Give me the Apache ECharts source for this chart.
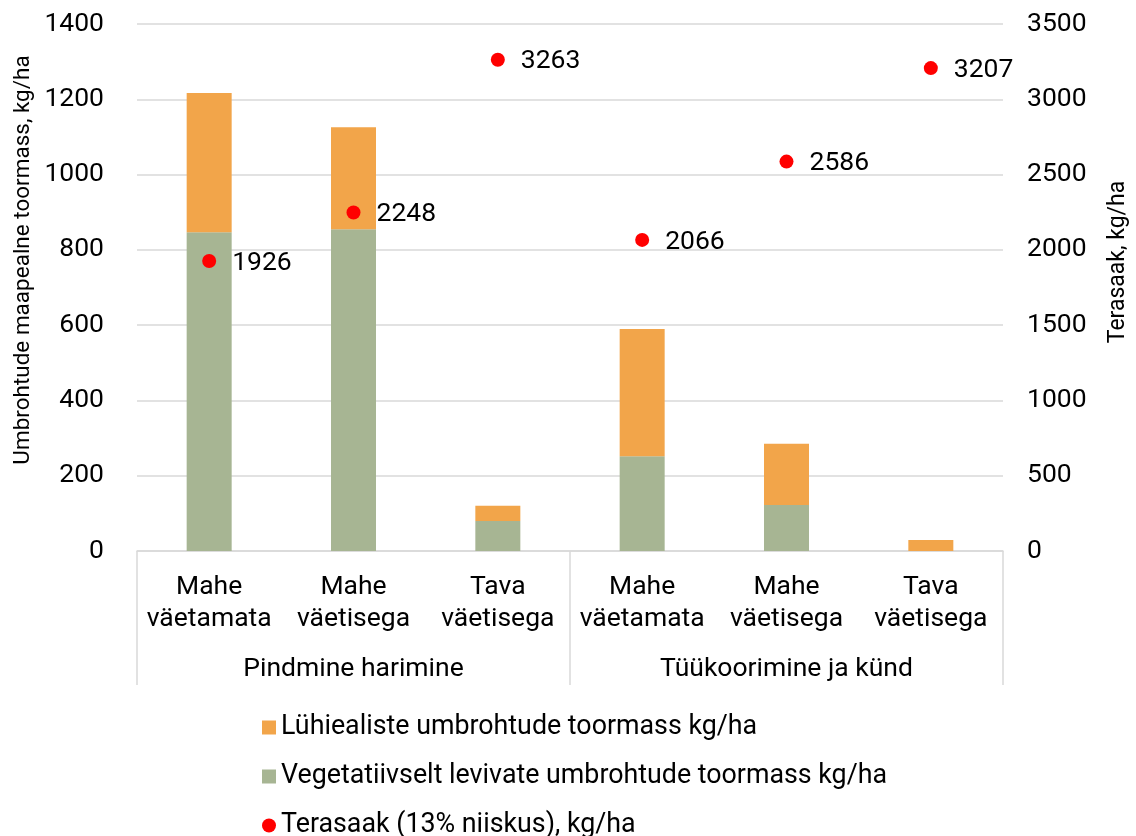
<!DOCTYPE html>
<html>
<head>
<meta charset="utf-8">
<script src="https://cdn.jsdelivr.net/npm/echarts@6/dist/echarts.min.js"></script>
<style>html,body{margin:0;padding:0;background:#fff}#c{width:1136px;height:836px}</style>
</head>
<body>
<div id="c"></div>
<script>
const categories = ['Mahe\nväetamata', 'Mahe\nväetisega', 'Tava\nväetisega', 'Mahe\nväetamata', 'Mahe\nväetisega', 'Tava\nväetisega'];
const groups = ['Pindmine harimine', 'Tüükoorimine ja künd'];
const vegetative = [847, 855, 80, 252, 122, 0];
const shortLived = [370, 271, 40, 338, 163, 29];
const grainYield = [1926, 2248, 3263, 2066, 2586, 3207];
const leftTicks = [0, 1400, 200];
const rightTicks = [0, 3500, 500];
const names = ['Lühiealiste umbrohtude toormass kg/ha', 'Vegetatiivselt levivate umbrohtude toormass kg/ha', 'Terasaak (13% niiskus), kg/ha'];
const leftTitle = 'Umbrohtude maapealne toormass, kg/ha';
const rightTitle = 'Terasaak, kg/ha';

const FONT = 'Roboto';
const TXT = '#000';
const FS = 26.5;
const chart = echarts.init(document.getElementById('c'));
chart.setOption({
  animation: false,
  textStyle: { fontFamily: FONT },
  grid: { left: 137, right: 133, top: 24, bottom: 285, containLabel: false },
  legend: {
    orient: 'vertical', left: 262, top: 714, height: 130, padding: 0, itemGap: 22, itemWidth: 14, itemHeight: 14,
    textStyle: { fontSize: 26.8, color: TXT, fontFamily: FONT },
    data: [
      { name: names[0], icon: 'rect' },
      { name: names[1], icon: 'rect' },
      { name: names[2], icon: 'circle' }
    ]
  },
  graphic: [
    { type: 'text', x: 23, y: 260, rotation: Math.PI / 2,
      style: { text: leftTitle, fontSize: 22.5, fontFamily: FONT, fill: TXT, align: 'center', verticalAlign: 'middle' } },
    { type: 'text', x: 1118, y: 262, rotation: Math.PI / 2,
      style: { text: rightTitle, fontSize: 23, fontFamily: FONT, fill: TXT, align: 'center', verticalAlign: 'middle' } }
  ],
  xAxis: [
    { type: 'category', data: categories, position: 'bottom',
      axisLine: { show: true, lineStyle: { color: '#d9d9d9', width: 1.5 } },
      axisTick: { show: false },
      axisLabel: { fontSize: 26.5, color: TXT, lineHeight: 32, margin: 20, interval: 0, fontFamily: FONT } },
    { type: 'category', data: groups, position: 'bottom',
      axisLine: { show: false },
      axisTick: { show: true, length: 134, interval: 0, lineStyle: { color: '#d9d9d9', width: 1.5 } },
      axisLabel: { fontSize: 26.5, color: TXT, margin: 105, interval: 0, fontFamily: FONT } }
  ],
  yAxis: [
    { type: 'value', min: leftTicks[0], max: leftTicks[1], interval: leftTicks[2],
      axisLine: { show: false }, axisTick: { show: false },
      splitLine: { lineStyle: { color: '#d9d9d9', width: 1.5 } },
      axisLabel: { fontSize: FS, color: TXT, margin: 33, fontFamily: FONT, formatter: v => String(v) } },
    { type: 'value', min: rightTicks[0], max: rightTicks[1], interval: rightTicks[2],
      axisLine: { show: false }, axisTick: { show: false }, splitLine: { show: false },
      axisLabel: { fontSize: FS, color: TXT, margin: 24, fontFamily: FONT, formatter: v => String(v) } }
  ],
  series: [
    { name: names[1], type: 'bar', stack: 'w', data: vegetative, barWidth: 45, xAxisIndex: 0, yAxisIndex: 0,
      itemStyle: { color: '#A7B593' } },
    { name: names[0], type: 'bar', stack: 'w', data: shortLived, barWidth: 45, xAxisIndex: 0, yAxisIndex: 0,
      itemStyle: { color: '#F2A54A' } },
    { name: names[2], type: 'scatter', data: grainYield, xAxisIndex: 0, yAxisIndex: 1, symbolSize: 14,
      itemStyle: { color: '#FF0000', opacity: 1 },
      label: { show: true, position: 'right', distance: 16, offset: [0, 2], fontSize: FS, color: TXT, fontFamily: FONT } }
  ]
});
</script>
</body>
</html>
